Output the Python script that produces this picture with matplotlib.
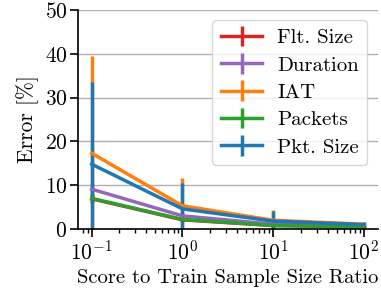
import numpy as np
import matplotlib
matplotlib.use("Agg")
import matplotlib.pyplot as plt

plt.rcParams['font.family'] = 'cmr10'
plt.rcParams['mathtext.fontset'] = 'cm'
plt.rcParams['axes.formatter.use_mathtext'] = True

# score / train sample size ratio
ratio = [0.1, 1, 10, 100]

labels = ["Flt. Size", "Duration", "IAT", "Packets", "Pkt. Size"]
colors = ["tab:red", "tab:purple", "tab:orange", "tab:green", "tab:blue"]

# mean error [%]
flt_size = [6.9, 2.1, 0.8, 0.5]
duration = [9.1, 3.0, 1.1, 0.7]
iat = [17.3, 5.3, 2.0, 1.1]
packets = [7.0, 2.2, 0.8, 0.5]
pkt_size = [14.8, 4.6, 1.8, 1.0]

# error bar half-widths
flt_err = [1.0, 0.5, 0.3, 0.2]
dur_err = [1.5, 0.8, 0.4, 0.3]
iat_err = [22.3, 6.3, 2.3, 0.6]
pkt_err = [1.0, 0.5, 0.3, 0.2]
psz_err = [18.8, 6.0, 2.3, 0.5]

means = [flt_size, duration, iat, packets, pkt_size]
errs = [flt_err, dur_err, iat_err, pkt_err, psz_err]

fig = plt.figure(figsize=(3.81, 2.94), dpi=100)
ax = fig.add_axes([0.205, 0.221, 0.786, 0.745])

for m, e, c, lab in zip(means, errs, colors, labels):
    ax.errorbar(ratio, m, yerr=e, color=c, lw=2.5, elinewidth=2.5, label=lab)

ax.set_xscale('log')
ax.set_ylim(0, 50)
ax.set_yticks([0, 10, 20, 30, 40, 50])
ax.grid(axis='y', color='#b0b0b0', lw=1)
ax.set_axisbelow(True)
for s in ['top', 'right']:
    ax.spines[s].set_visible(False)
ax.spines['left'].set_linewidth(1.2)
ax.spines['bottom'].set_linewidth(1.2)
ax.tick_params(labelsize=15.5, width=1.2, length=5.8, pad=2)
ax.tick_params(which='minor', width=1, length=3)

ax.set_xlabel("Score to Train Sample Size Ratio", fontsize=14.8, labelpad=4)
ax.set_ylabel("Error [%]", fontsize=15.5, labelpad=4)
ax.legend(loc='upper right', fontsize=15, handlelength=2.0, labelspacing=0.42,
          borderpad=0.4, handletextpad=0.7, framealpha=0.8)

fig.savefig("out.png", dpi=100)
